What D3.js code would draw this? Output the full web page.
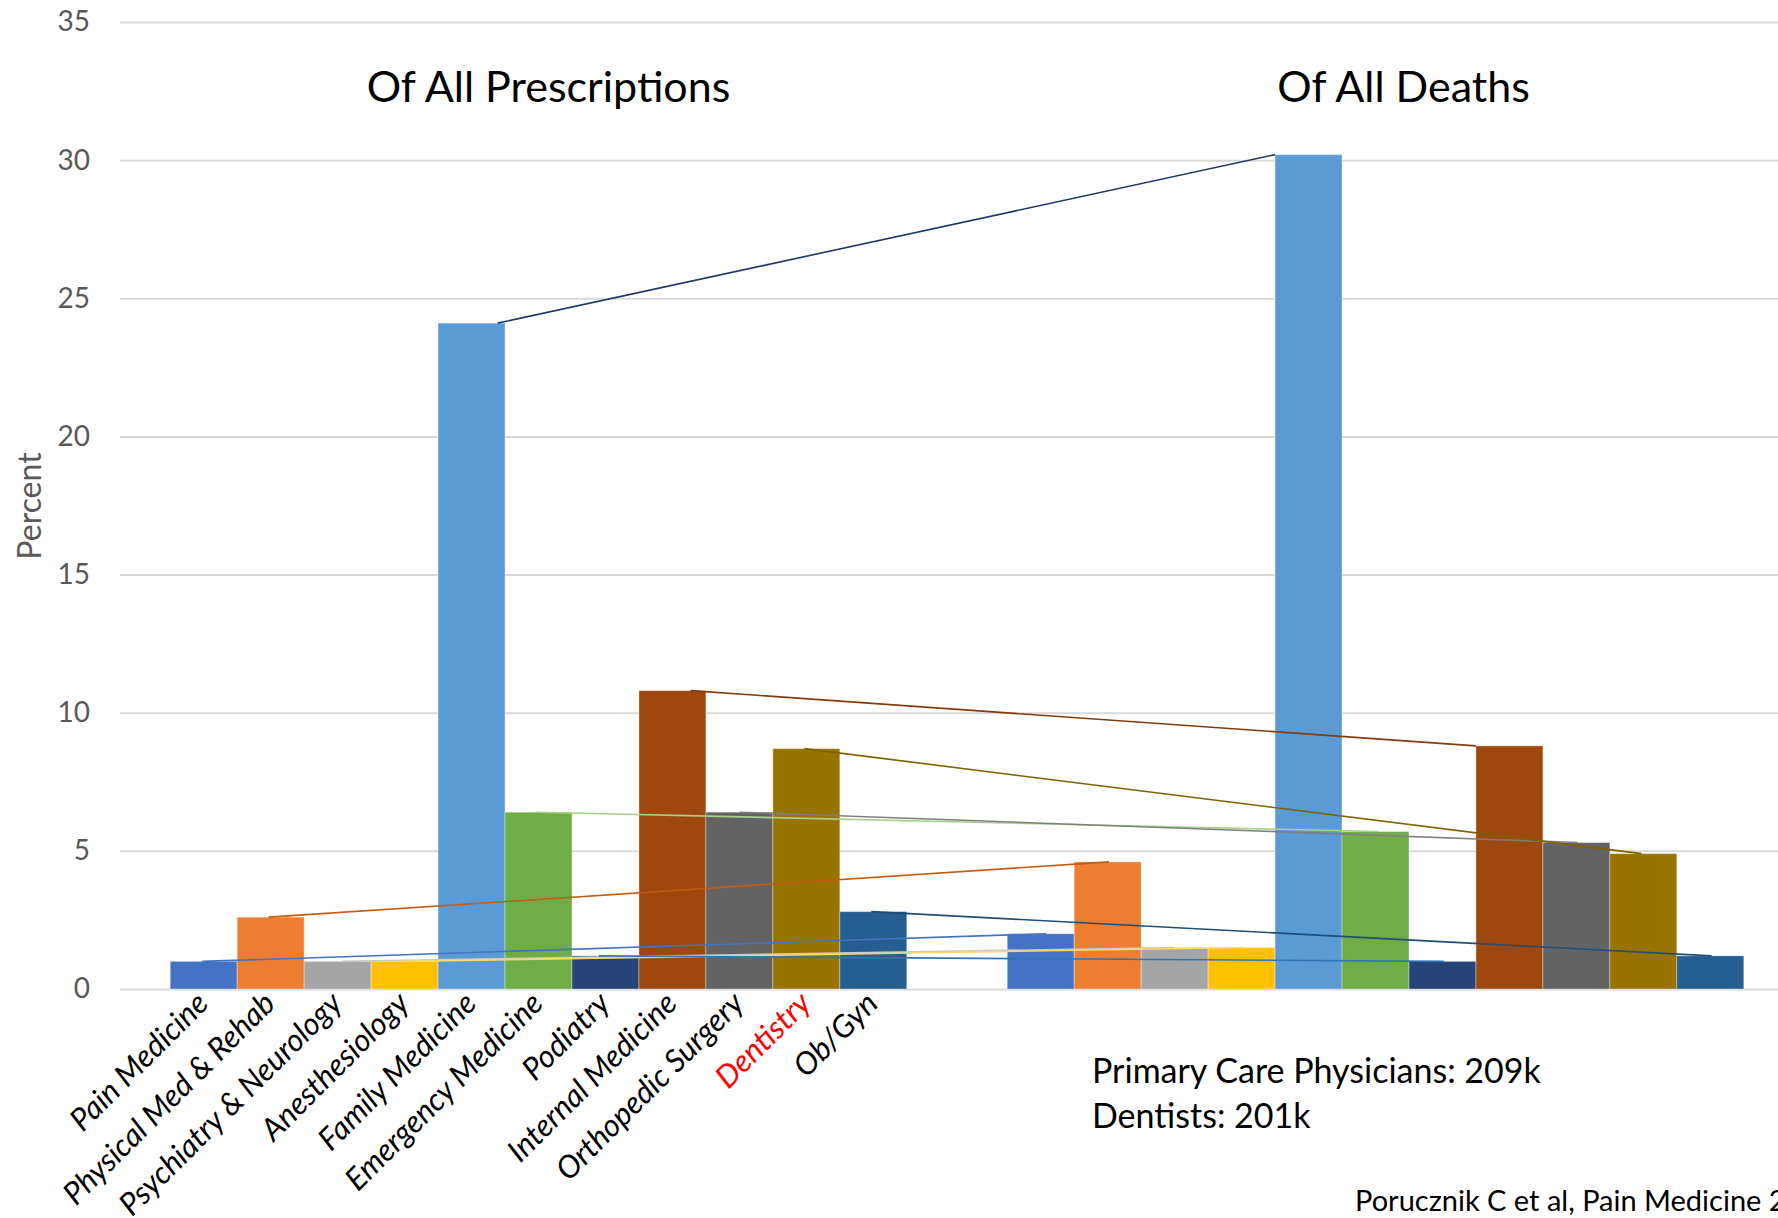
<!DOCTYPE html>
<html>
<head>
<meta charset="utf-8">
<script src="https://d3js.org/d3.v7.min.js"></script>
<style>
* { padding: 0; margin: 0; }
body { background: #fff; overflow: hidden; }
svg { display: block; font-family: Lato, "Open Sans", sans-serif; }
.grid line { stroke: #d9d9d9; stroke-width: 2px; }
.ytick text { fill: #595959; font-size: 28px; font-family: Lato, "Open Sans", sans-serif; }
</style>
</head>
<body>
<svg width="1778" height="1218"></svg>
<script>
// groups along the x axis
const groups = ["Of All Prescriptions", "Of All Deaths"]

// specialties, one bar per group each
const specialties = [
    "Pain Medicine", "Physical Med & Rehab", "Psychiatry & Neurology", "Anesthesiology",
    "Family Medicine", "Emergency Medicine", "Podiatry", "Internal Medicine",
    "Orthopedic Surgery", "Dentistry", "Ob/Gyn"
]

// percent values
const prescriptions = [1.0, 2.6, 1.0, 1.0, 24.1, 6.4, 1.2, 10.8, 6.4, 8.7, 2.8]
const deaths = [2.0, 4.6, 1.5, 1.5, 30.2, 5.7, 1.0, 8.8, 5.3, 4.9, 1.2]

const yTicks = [0, 5, 10, 15, 20, 25, 30, 35]

const notes = ["Primary Care Physicians: 209k", "Dentists: 201k"]
const citation = "Porucznik C et al, Pain Medicine 2014"

// office palette
const barColors = ["#4472c4", "#ed7d31", "#a5a5a5", "#ffc000", "#5b9bd5", "#70ad47",
                   "#264478", "#9e480e", "#636363", "#997300", "#255e91"]
const lineColors = ["#4472c4", "#c55a11", "#c9c9c9", "#ffd966", "#203864", "#a9d18e",
                    "#2e75b6", "#843c0c", "#7f7f7f", "#7f6000", "#1f4e79"]
// where each hand drawn connector touches the two bars (fraction of bar width)
const anchors = [[0.48, 0.58], [0.47, 0.52], [0.57, 0.5], [0.45, 0.55], [0.89, 0.0], [0.46, 0.53],
                 [0.4, 0.52], [0.77, 0.0], [0.5, 0.52], [0.47, 0.47], [0.47, 0.52]]

const W = 1778, H = 1218
const plotLeft = 120, plotTop = 22, plotBottom = 989

const svg = d3.select("svg")

const x0 = d3.scaleBand().domain(groups).range([plotLeft, 1794]).paddingInner(0.12).paddingOuter(0.06)
const x1 = d3.scaleBand().domain(specialties).range([0, x0.bandwidth()])
const y = d3.scaleLinear().domain([0, 35]).range([plotBottom, plotTop])

// gridlines
svg.append("g")
    .attr("class", "grid")
    .attr("transform", "translate(" + plotLeft + ",0)")
    .call(d3.axisRight(y).tickValues(yTicks).tickSize(W - plotLeft).tickFormat(""))
    .call(g => g.select(".domain").remove())

// y tick labels
svg.append("g")
    .attr("class", "ytick")
    .attr("transform", "translate(" + plotLeft + ",0)")
    .call(d3.axisLeft(y).tickValues(yTicks).tickSize(0).tickPadding(30))
    .call(g => g.select(".domain").remove())
    .attr("font-family", null)
    .attr("font-size", null)

svg.append("text")
    .attr("transform", "translate(41,506) rotate(-90)")
    .attr("text-anchor", "middle")
    .attr("fill", "#595959")
    .style("font-size", "32px")
    .text("Percent")

const series = [prescriptions, deaths]
const rows = []
series.forEach((vals, gi) => {
    vals.forEach((v, i) => rows.push({group: groups[gi], name: specialties[i], i: i, value: v}))
})

svg.append("g").selectAll("rect")
    .data(rows)
    .join("rect")
    .attr("x", d => x0(d.group) + x1(d.name))
    .attr("y", d => y(d.value))
    .attr("width", x1.bandwidth())
    .attr("height", d => y(0) - y(d.value))
    .attr("fill", d => barColors[d.i])
    .attr("stroke", "#ffffff")
    .attr("stroke-opacity", 0.35)
    .attr("stroke-width", 1)

// connectors from prescriptions bar to deaths bar
svg.append("g").selectAll("line")
    .data(specialties)
    .join("line")
    .attr("x1", (s, i) => x0(groups[0]) + x1(s) + anchors[i][0] * x1.bandwidth())
    .attr("y1", (s, i) => y(prescriptions[i]))
    .attr("x2", (s, i) => x0(groups[1]) + x1(s) + anchors[i][1] * x1.bandwidth())
    .attr("y2", (s, i) => y(deaths[i]))
    .attr("stroke", (s, i) => lineColors[i])
    .attr("stroke-width", 1.6)

// category labels under the first group
svg.append("g").selectAll("text")
    .data(specialties)
    .join("text")
    .attr("transform", s => "translate(" + (x0(groups[0]) + x1(s) + x1.bandwidth() / 2 - 9) + "," + (plotBottom + 1) + ") rotate(-45)")
    .attr("text-anchor", "end")
    .attr("dy", "0.7em")
    .attr("fill", s => s === "Dentistry" ? "#ff0000" : "#000")
    .style("font-size", "31px")
    .style("font-style", "italic")
    .text(s => s)

// group titles
const titleShift = [10, 28]
svg.append("g").selectAll("text")
    .data(groups)
    .join("text")
    .attr("x", (g, i) => x0(g) + x0.bandwidth() / 2 + titleShift[i])
    .attr("y", 102)
    .attr("text-anchor", "middle")
    .style("font-size", "43px")
    .text(g => g)

svg.append("g").selectAll("text")
    .data(notes)
    .join("text")
    .attr("x", 1092)
    .attr("y", (d, i) => 1083 + i * 45)
    .style("font-size", "34px")
    .text(d => d)

svg.append("text")
    .attr("x", 1355)
    .attr("y", 1211)
    .style("font-size", "29px")
    .text(citation)
</script>
</body>
</html>
